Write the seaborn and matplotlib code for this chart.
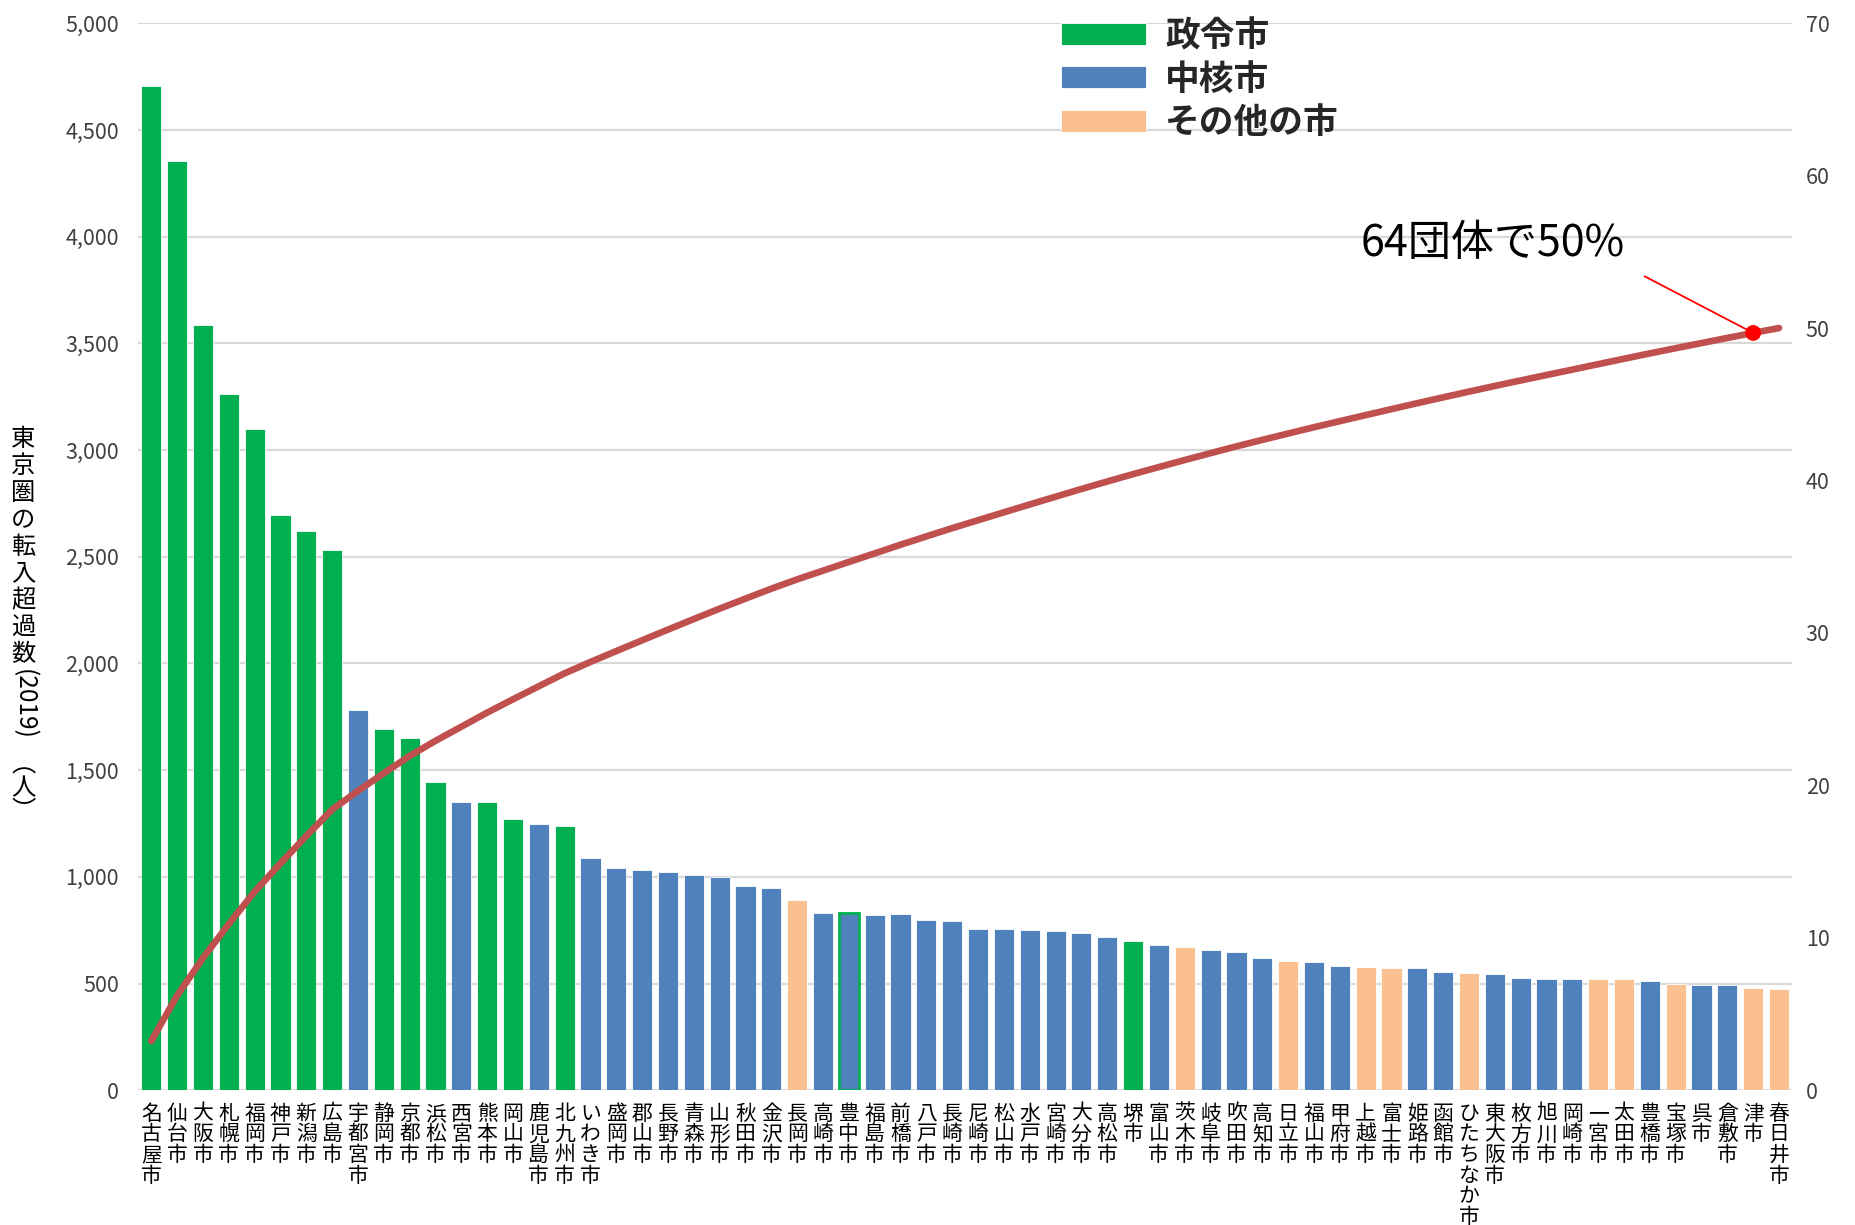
import numpy as np
import pandas as pd
import matplotlib
matplotlib.use("Agg")
import matplotlib.pyplot as plt
from matplotlib.ticker import FuncFormatter, MultipleLocator
import seaborn as sns

# --- data -------------------------------------------------------------
cities = [
    "名古屋市", "仙台市", "大阪市", "札幌市", "福岡市", "神戸市", "新潟市", "広島市",
    "宇都宮市", "静岡市", "京都市", "浜松市", "西宮市", "熊本市", "岡山市", "鹿児島市",
    "北九州市", "いわき市", "盛岡市", "郡山市", "長野市", "青森市", "山形市", "秋田市",
    "金沢市", "長岡市", "高崎市", "豊中市", "福島市", "前橋市", "八戸市", "長崎市",
    "尼崎市", "松山市", "水戸市", "宮崎市", "大分市", "高松市", "堺市", "富山市",
    "茨木市", "岐阜市", "吹田市", "高知市", "日立市", "福山市", "甲府市", "上越市",
    "富士市", "姫路市", "函館市", "ひたちなか市", "東大阪市", "枚方市", "旭川市", "岡崎市",
    "一宮市", "太田市", "豊橋市", "宝塚市", "呉市", "倉敷市", "津市", "春日井市",
]

city_types = [
    "政令市", "政令市", "政令市", "政令市", "政令市", "政令市", "政令市", "政令市",
    "中核市", "政令市", "政令市", "政令市", "中核市", "政令市", "政令市", "中核市",
    "政令市", "中核市", "中核市", "中核市", "中核市", "中核市", "中核市", "中核市",
    "中核市", "その他の市", "中核市", "中核市", "中核市", "中核市", "中核市", "中核市",
    "中核市", "中核市", "中核市", "中核市", "中核市", "中核市", "政令市", "中核市",
    "その他の市", "中核市", "中核市", "中核市", "その他の市", "中核市", "中核市", "その他の市",
    "その他の市", "中核市", "中核市", "その他の市", "中核市", "中核市", "中核市", "中核市",
    "その他の市", "その他の市", "中核市", "その他の市", "中核市", "中核市", "その他の市", "その他の市",
]

net_inflow = [
    4705, 4353, 3584, 3263, 3097, 2697, 2621, 2533,
    1781, 1693, 1652, 1445, 1350, 1350, 1272, 1250,
    1237, 1088, 1041, 1030, 1023, 1010, 997, 956,
    950, 891, 832, 832, 821, 827, 797, 791,
    756, 756, 750, 744, 737, 720, 701, 679,
    673, 656, 649, 620, 608, 602, 580, 578,
    572, 572, 555, 548, 544, 525, 519, 519,
    519, 519, 513, 497, 491, 491, 477, 473,
]

# net inflow to the Tokyo area from all municipalities (denominator of the share)
total_net_inflow = 145800

type_order = ["政令市", "中核市", "その他の市"]
type_colors = ["#00B050", "#4F81BD", "#FAC090"]

marked_city = "津市"
marked_label = "64団体で50%"
y_label_main = "東京圏の転入超過数"
y_label_year = "(2019)"
y_label_unit = "︵\n人\n︶"

# --- derived table ----------------------------------------------------
df = pd.DataFrame({"city": cities, "type": city_types, "value": net_inflow})
df["pos"] = np.arange(len(df))
df["cum_share"] = df["value"].cumsum() / total_net_inflow * 100

# --- style ------------------------------------------------------------
sns.set_style("white")
plt.rcParams["font.family"] = ["Noto Sans CJK JP", "DejaVu Sans"]

fig = plt.figure(figsize=(18.55, 12.25), dpi=100)
ax = fig.add_axes([0.0746, 0.110, 0.966 - 0.0746, 0.981 - 0.110])

sns.barplot(
    data=df, x="city", y="value", hue="type", order=cities,
    hue_order=type_order, palette=dict(zip(type_order, type_colors)),
    dodge=False, saturation=1, width=0.78, edgecolor="white", linewidth=0.6,
    ax=ax,
)

# one bar carries a green outline
for p in ax.patches:
    cx = p.get_x() + p.get_width() / 2
    if abs(cx - cities.index("豊中市")) < 0.3:
        p.set_edgecolor(type_colors[0])
        p.set_linewidth(2.0)

ax.set_xlim(-0.5, len(cities) - 0.5)
ax.set_ylim(0, 5000)
ax.yaxis.set_major_locator(MultipleLocator(500))
ax.yaxis.set_major_formatter(FuncFormatter(lambda v, _: f"{int(v):,}"))
ax.grid(axis="y", color="#D9D9D9", linewidth=1.6)
ax.set_axisbelow(True)
for s in ax.spines.values():
    s.set_visible(False)
ax.set_xlabel("")
ax.set_ylabel("")
ax.set_xticks(range(len(cities)))
ax.set_xticklabels(["\n".join(c) for c in cities], fontsize=15,
                   linespacing=0.92, color="black")
ax.tick_params(axis="x", length=0, pad=9)
ax.tick_params(axis="y", length=0, pad=14, labelsize=15.5, labelcolor="#404040")

# legend
handles, labels = ax.get_legend_handles_labels()
ax.legend(handles, labels, loc="upper left", bbox_to_anchor=(0.5495, 1.018),
          frameon=False, prop={"size": 25, "weight": "bold"},
          handlelength=2.45, handleheight=0.6, handletextpad=0.55,
          labelspacing=0.25, borderaxespad=0)

# cumulative share on the secondary axis
ax2 = ax.twinx()
sns.lineplot(data=df, x="pos", y="cum_share", color="#C0504D", linewidth=4.8,
             ax=ax2, solid_capstyle="round")
ax2.set_ylim(0, 70)
ax2.yaxis.set_major_locator(MultipleLocator(10))
ax2.tick_params(axis="y", length=0, pad=10, labelsize=15.5, labelcolor="#404040")
ax2.set_ylabel("")
ax2.set_xlabel("")
ax2.grid(False)
for s in ax2.spines.values():
    s.set_visible(False)

mark = df[df["city"] == marked_city]
sns.scatterplot(data=mark, x="pos", y="cum_share", color="#FF0000", s=130,
                edgecolor="none", ax=ax2, zorder=5)
ax2.set_xlim(-0.5, len(cities) - 0.5)
ax2.set_xlabel("")
ax2.set_ylabel("")

mx, my = float(mark["pos"].iloc[0]), float(mark["cum_share"].iloc[0])
ax2.annotate("", xy=(mx, my), xytext=(57.8, 53.4),
             arrowprops=dict(arrowstyle="-", color="#FF0000", lw=1.3,
                             shrinkA=0, shrinkB=0))
ax2.text(51.9, 55.5, marked_label, fontsize=31, ha="center", va="center",
         color="black")

# vertical axis title written top-to-bottom
t1 = fig.text(0.0125, 0.652, "\n".join(y_label_main), fontsize=17.5,
              ha="center", va="top", linespacing=1.04, color="black")
t2 = fig.text(0, 0, y_label_year, fontsize=17.5, rotation=-90,
              ha="center", va="top", color="black")
t3 = fig.text(0, 0, y_label_unit, fontsize=17.5, ha="center", va="top",
              linespacing=0.85, color="black")
fig.canvas.draw()
r = fig.canvas.get_renderer()
bb1 = t1.get_window_extent(r).transformed(fig.transFigure.inverted())
t2.set_position((0.0125, bb1.y0 - 0.002))
fig.canvas.draw()
bb2 = t2.get_window_extent(r).transformed(fig.transFigure.inverted())
t3.set_position((0.0125, bb2.y0 - 0.010))

fig.savefig("out.png", dpi=100)
